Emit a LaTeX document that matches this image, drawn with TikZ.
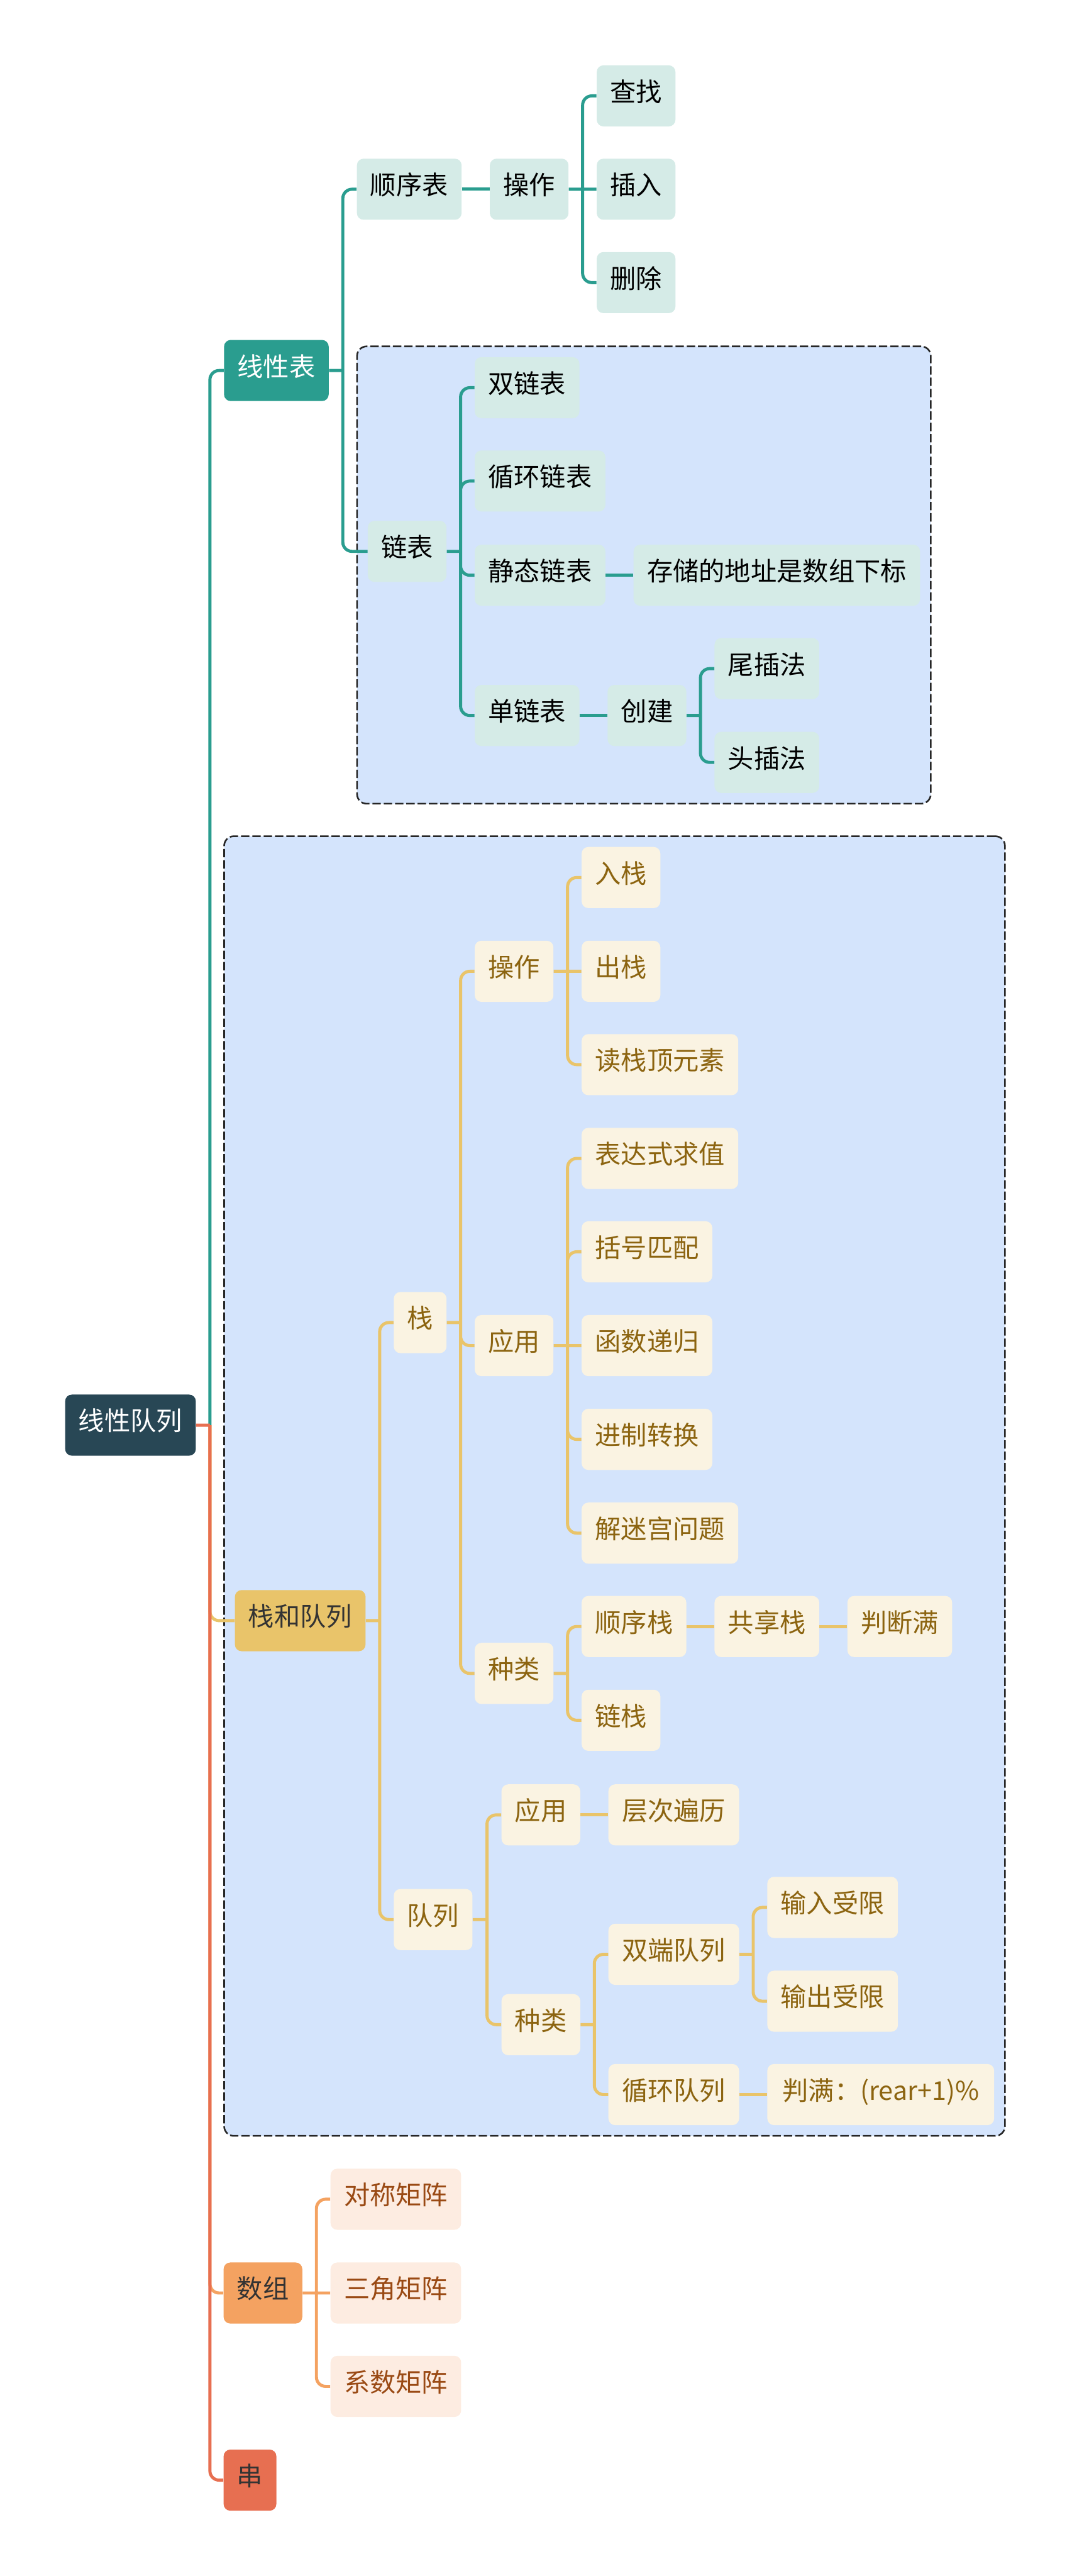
\documentclass[tikz,border=0pt]{standalone}
\usepackage{fontspec}
\setmainfont{Noto Sans CJK SC}
\usepackage{xcolor}
\usepackage{tikz}
\usetikzlibrary{positioning,fit,backgrounds}

\definecolor{rootc}{HTML}{284755}
\definecolor{tealc}{HTML}{2A9D8F}
\definecolor{goldc}{HTML}{E9C46A}
\definecolor{orangec}{HTML}{F4A261}
\definecolor{redc}{HTML}{E76F51}
\definecolor{tealbg}{HTML}{D5EBE7}
\definecolor{goldbg}{HTML}{FAF3E2}
\definecolor{orangebg}{HTML}{FDECE1}
\definecolor{goldtx}{HTML}{8C6410}
\definecolor{orangetx}{HTML}{9A4A14}
\definecolor{darktx}{HTML}{333333}
\definecolor{grpbg}{HTML}{D4E4FC}

\begin{document}
\begin{tikzpicture}[every node/.style={align=center}, node distance=0.66cm, font=\fontsize{17.65pt}{21pt}\selectfont]
\tikzset{
  topic/.style={rounded corners=0.16cm, minimum height=1.46cm, inner xsep=0.32cm, text height=0.83em, text depth=0.07em},
  rootnode/.style={topic, fill=rootc, text=white},
  tealtop/.style={topic, fill=tealc, text=white},
  goldtop/.style={topic, fill=goldc, text=darktx},
  orangetop/.style={topic, fill=orangec, text=darktx},
  redtop/.style={topic, fill=redc, text=darktx},
  tealsub/.style={topic, fill=tealbg, text=black},
  goldsub/.style={topic, fill=goldbg, text=goldtx},
  orangesub/.style={topic, fill=orangebg, text=orangetx},
  grp/.style={draw=black!85, fill=grpbg, line width=1.1pt, dash pattern=on 0.2cm off 0.07cm, rounded corners=0.23cm, inner sep=0.25cm},
  tline/.style={draw=tealc, line width=2.1pt, rounded corners=0.22cm},
  gline/.style={draw=goldc, line width=2.1pt, rounded corners=0.22cm},
  oline/.style={draw=orangec, line width=2.1pt, rounded corners=0.22cm},
  rline/.style={draw=redc, line width=2.1pt, rounded corners=0.22cm}
}
\useasboundingbox (0,0) rectangle (25.6,-61.53);

\node[rootnode, anchor=west] (root) at (1.55,-34.04) {线性队列};
\node[tealtop, right=of root, yshift=25.19cm] (linear) {线性表};
\node[goldtop, right=0.92cm of root, yshift=-4.67cm] (sq) {栈和队列};
\node[orangetop, right=0.65cm of root, yshift=-20.73cm] (array) {数组};
\node[redtop, right=0.65cm of root, yshift=-25.20cm] (str) {串};

% 线性表
\node[tealsub, right=of linear, yshift=4.33cm] (seqlist) {顺序表};
\node[tealsub, right=0.92cm of linear, yshift=-4.32cm] (linked) {链表};
\node[tealsub, right=of seqlist] (seqops) {操作};
\node[tealsub, right=of seqops, yshift=2.23cm] (find) {查找};
\node[tealsub, right=of seqops] (insert) {插入};
\node[tealsub, right=of seqops, yshift=-2.23cm] (delete) {删除};
\node[tealsub, right=of linked, yshift=3.91cm] (dlist) {双链表};
\node[tealsub, right=of linked, yshift=1.68cm] (clist) {循环链表};
\node[tealsub, right=of linked, yshift=-0.57cm] (stlist) {静态链表};
\node[tealsub, right=of linked, yshift=-3.92cm] (single) {单链表};
\node[tealsub, right=of stlist] (addr) {存储的地址是数组下标};
\node[tealsub, right=of single] (create) {创建};
\node[tealsub, right=of create, yshift=1.12cm] (tail) {尾插法};
\node[tealsub, right=of create, yshift=-1.12cm] (head) {头插法};

% 栈和队列
\node[goldsub, right=of sq, yshift=7.12cm] (stack) {栈};
\node[goldsub, right=of sq, yshift=-7.14cm] (queue) {队列};
\node[goldsub, right=of stack, yshift=8.39cm] (stops) {操作};
\node[goldsub, right=of stack, yshift=-0.55cm] (stapp) {应用};
\node[goldsub, right=of stack, yshift=-8.38cm] (stkind) {种类};
\node[goldsub, right=of stops, yshift=2.24cm] (push) {入栈};
\node[goldsub, right=of stops] (pop) {出栈};
\node[goldsub, right=of stops, yshift=-2.23cm] (peek) {读栈顶元素};
\node[goldsub, right=of stapp, yshift=4.47cm] (expr) {表达式求值};
\node[goldsub, right=of stapp, yshift=2.24cm] (bracket) {括号匹配};
\node[goldsub, right=of stapp] (recur) {函数递归};
\node[goldsub, right=of stapp, yshift=-2.24cm] (radix) {进制转换};
\node[goldsub, right=of stapp, yshift=-4.48cm] (maze) {解迷宫问题};
\node[goldsub, right=of stkind, yshift=1.12cm] (seqstk) {顺序栈};
\node[goldsub, right=of stkind, yshift=-1.12cm] (linkstk) {链栈};
\node[goldsub, right=of seqstk] (shared) {共享栈};
\node[goldsub, right=of shared] (isfull) {判断满};
\node[goldsub, right=0.68cm of queue, yshift=2.50cm] (qapp) {应用};
\node[goldsub, right=0.68cm of queue, yshift=-2.51cm] (qkind) {种类};
\node[goldsub, right=of qapp] (bfs) {层次遍历};
\node[goldsub, right=of qkind, yshift=1.68cm] (deque) {双端队列};
\node[goldsub, right=of qkind, yshift=-1.67cm] (cqueue) {循环队列};
\node[goldsub, right=of deque, yshift=1.12cm] (inlim) {输入受限};
\node[goldsub, right=of deque, yshift=-1.12cm] (outlim) {输出受限};
\node[goldsub, right=of cqueue, minimum width=5.42cm] (cfull) {判满：(rear+1)\%};

% 数组
\node[orangesub, right=of array, yshift=2.24cm] (sym) {对称矩阵};
\node[orangesub, right=of array] (tri) {三角矩阵};
\node[orangesub, right=of array, yshift=-2.23cm] (sparse) {系数矩阵};

\begin{scope}[on background layer]
\node[grp, fit=(linked)(dlist)(addr)(head)] (lkbox) {};
\node[grp, fit=(sq)(push)(cfull)(cqueue)] (sqbox) {};
\end{scope}

% root branches
\path (root.east) ++(0.33,0) coordinate (jroot);
\draw[tline] (jroot) |- (linear.west);
\draw[gline] (jroot) |- (sq.west);
\draw[oline] (jroot) |- (array.west);
\draw[rline] (root.east) -- (jroot) (jroot) |- (str.west);

% 线性表 branches
\draw[tline] (linear.east) -- ++(0.33,0) coordinate (jlin) (jlin) |- (seqlist.west) (jlin) |- (linked.west);
\draw[tline] (seqlist) -- (seqops);
\draw[tline] (seqops) -- (insert) (seqops.east) ++(0.33,0) coordinate (jops) |- (find.west) (jops) |- (delete.west);
\draw[tline] (linked.east) -- ++(0.33,0) coordinate (jlk) (jlk) |- (dlist.west) (jlk) |- (clist.west) (jlk) |- (stlist.west) (jlk) |- (single.west);
\draw[tline] (stlist) -- (addr);
\draw[tline] (single) -- (create);
\draw[tline] (create.east) -- ++(0.33,0) coordinate (jcr) (jcr) |- (tail.west) (jcr) |- (head.west);

% 栈和队列 branches
\draw[gline] (sq.east) -- ++(0.33,0) coordinate (jsq) (jsq) |- (stack.west) (jsq) |- (queue.west);
\draw[gline] (stack.east) -- ++(0.33,0) coordinate (jstk) (jstk) |- (stops.west) (jstk) |- (stapp.west) (jstk) |- (stkind.west);
\draw[gline] (stops) -- (pop) (stops.east) ++(0.33,0) coordinate (jsto) |- (push.west) (jsto) |- (peek.west);
\draw[gline] (stapp) -- (recur) (stapp.east) ++(0.33,0) coordinate (jsta) |- (expr.west) (jsta) |- (bracket.west) (jsta) |- (radix.west) (jsta) |- (maze.west);
\draw[gline] (stkind.east) -- ++(0.33,0) coordinate (jstki) (jstki) |- (seqstk.west) (jstki) |- (linkstk.west);
\draw[gline] (seqstk) -- (shared);
\draw[gline] (shared) -- (isfull);
\draw[gline] (queue.east) -- ++(0.34,0) coordinate (jq) (jq) |- (qapp.west) (jq) |- (qkind.west);
\draw[gline] (qapp) -- (bfs);
\draw[gline] (qkind.east) -- ++(0.33,0) coordinate (jqk) (jqk) |- (deque.west) (jqk) |- (cqueue.west);
\draw[gline] (deque.east) -- ++(0.33,0) coordinate (jdq) (jdq) |- (inlim.west) (jdq) |- (outlim.west);
\draw[gline] (cqueue) -- (cfull);

% 数组 branches
\draw[oline] (array) -- (tri) (array.east) ++(0.33,0) coordinate (jarr) |- (sym.west) (jarr) |- (sparse.west);
\end{tikzpicture}
\end{document}
